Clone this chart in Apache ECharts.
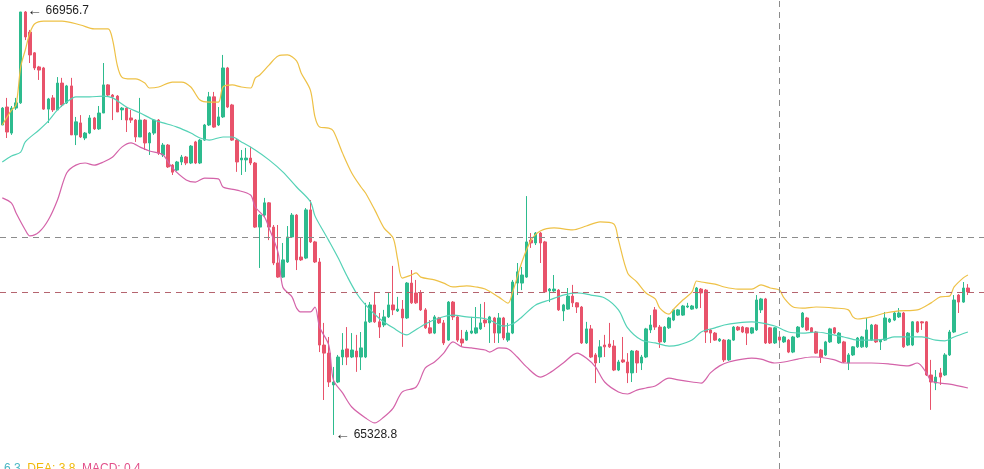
<!DOCTYPE html>
<html>
<head>
<meta charset="utf-8">
<script src="https://cdn.jsdelivr.net/npm/echarts@6/dist/echarts.min.js"></script>
<style>
html, body { margin: 0; padding: 0; background: #fff; }
#main { width: 984px; height: 469px; }
</style>
</head>
<body>
<div id="main"></div>
<script>
// candle values, one entry per bar
var opens = [66519,66588,66488,66584,66604,66953,66876,66796,66742,66738,
66580,66623,66577,66680,66604,66669,66481,66527,66469,66488,
66546,66504,66565,66673,66634,66630,66577,66584,66546,66538,
66473,66538,66450,66488,66538,66404,66442,66365,66346,66377,
66396,66373,66454,66373,66461,66519,66627,66519,66550,66738,
66596,66461,66385,66385,66392,66373,66127,66173,66220,66127,
65989,65935,65993,66089,66173,66012,66008,66193,66070,65993,
65674,65643,65521,65532,65628,65659,65628,65651,65628,65628,
65763,65828,65763,65751,65782,65828,65805,65812,65778,65912,
65874,65874,65809,65740,65720,65778,65759,65693,65839,65782,
65697,65693,65720,65720,65736,65770,65759,65778,65720,65778,
65693,65720,65912,65912,65935,66077,66066,66104,66070,65882,
65882,65885,65805,65812,65862,65836,65820,65682,65736,65636,
65628,65674,65678,65670,65578,65617,65609,65567,65651,65605,
65628,65732,65809,65743,65686,65740,65770,65789,65789,65820,
65812,65816,65889,65885,65732,65720,65690,65693,65617,65693,
65743,65743,65740,65720,65732,65809,65851,65740,65682,65705,
65686,65693,65647,65705,65743,65778,65740,65724,65655,65636,
65686,65740,65682,65686,65605,65636,65667,65667,65667,65693,
65751,65686,65693,65763,65770,65782,65797,65674,65674,65763,
65763,65763,65559,65528,65567,65559,65636,65724,65866,65839,
65893];

var closes = [66584,66492,66584,66604,66953,66857,66788,66738,66730,66580,
66619,66577,66680,66596,66669,66481,66531,66473,66488,66546,
66504,66565,66673,66634,66627,66569,66584,66538,66538,66473,
66538,66450,66488,66538,66411,66442,66358,66338,66377,66396,
66373,66438,66373,66461,66519,66627,66511,66550,66738,66588,
66461,66377,66392,66392,66373,66127,66173,66220,66127,65989,
65935,66001,66089,66173,66001,66001,66193,66070,65993,65674,
65643,65532,65532,65628,65655,65628,65655,65628,65663,65763,
65828,65763,65743,65782,65828,65809,65812,65778,65912,65836,
65836,65809,65740,65720,65782,65759,65682,65839,65782,65693,
65682,65724,65728,65740,65759,65759,65782,65720,65778,65701,
65720,65916,65955,65943,66070,66066,66104,66066,65878,65889,
65889,65809,65828,65862,65836,65820,65682,65736,65628,65605,
65667,65667,65667,65578,65609,65609,65567,65651,65605,65628,
65736,65751,65743,65686,65743,65778,65809,65809,65824,65824,
65824,65893,65874,65724,65720,65693,65697,65617,65693,65743,
65732,65724,65720,65740,65847,65851,65682,65682,65740,65693,
65705,65647,65705,65743,65797,65732,65724,65643,65628,65686,
65736,65720,65720,65609,65636,65667,65701,65705,65732,65751,
65686,65693,65778,65774,65797,65797,65667,65720,65763,65724,
65759,65559,65532,65551,65551,65636,65724,65847,65839,65893,
65878];

var lows = [66519,66469,66481,66577,66600,66845,66757,66730,66692,66577,
66527,66569,66577,66588,66600,66481,66442,66469,66461,66484,
66500,66500,66565,66630,66538,66569,66538,66492,66527,66454,
66473,66423,66404,66481,66404,66396,66354,66327,66342,66365,
66365,66369,66369,66369,66458,66515,66508,66515,66546,66584,
66458,66339,66327,66339,66365,66124,65970,66166,66077,65981,
65932,65932,65989,66085,65962,65997,66004,66066,65989,65647,
65463,65513,65328.8,65528,65597,65597,65624,65571,65578,65624,
65759,65759,65701,65743,65778,65789,65801,65667,65774,65832,
65832,65805,65736,65716,65716,65755,65674,65690,65770,65686,
65667,65690,65716,65716,65732,65743,65682,65682,65682,65693,
65686,65716,65866,65885,65932,66047,66058,65989,65874,65839,
65878,65805,65766,65809,65820,65797,65678,65678,65624,65528,
65605,65628,65663,65574,65574,65605,65528,65532,65567,65578,
65624,65720,65732,65663,65682,65736,65766,65786,65786,65816,
65809,65812,65816,65682,65682,65690,65686,65609,65613,65690,
65728,65720,65674,65716,65728,65797,65678,65678,65678,65667,
65682,65643,65643,65701,65740,65728,65720,65640,65605,65632,
65682,65716,65678,65605,65578,65632,65663,65663,65663,65690,
65682,65655,65690,65759,65766,65778,65663,65670,65670,65720,
65732,65555,65425,65501,65521,65555,65632,65720,65797,65836,
65866];

var highs = [66588,66623,66592,66623,66953,66956.7,66884,66799,66746,66742,
66623,66634,66703,66700,66673,66700,66550,66557,66492,66557,
66550,66592,66757,66676,66638,66634,66588,66588,66577,66542,
66623,66542,66492,66542,66542,66450,66446,66369,66381,66404,
66400,66442,66458,66465,66523,66646,66646,66588,66788,66742,
66600,66465,66423,66431,66435,66377,66177,66239,66223,66135,
66135,66066,66131,66181,66177,66085,66200,66231,66074,66008,
65759,65705,65590,65636,65720,65743,65720,65713,65724,65836,
65839,65878,65797,65809,65874,65978,65859,65847,65916,65962,
65924,65885,65816,65770,65789,65782,65770,65843,65843,65786,
65732,65732,65782,65820,65832,65839,65786,65782,65797,65782,
65759,65924,65989,65974,66246,66104,66108,66108,66074,65893,
65943,65889,65832,65893,65905,65839,65824,65763,65751,65643,
65693,65713,65759,65693,65617,65705,65643,65655,65655,65636,
65740,65789,65820,65751,65747,65782,65812,65812,65828,65836,
65828,65897,65893,65889,65736,65724,65701,65697,65697,65747,
65747,65747,65743,65743,65866,65855,65855,65743,65743,65724,
65709,65697,65709,65747,65801,65782,65743,65728,65659,65690,
65740,65743,65724,65690,65643,65670,65705,65709,65778,65755,
65755,65697,65801,65778,65801,65816,65801,65724,65766,65766,
65766,65766,65617,65578,65586,65643,65732,65866,65870,65916,
65908];

// bollinger bands: [bar index, value]
var upperBand = [[0,66519],[2,66576],[3,66596],[4,66742],[5,66807],[6,66872],[7,66907],[9,66918],[13,66918],[17,66903],
[20,66888],[23,66888],[24,66845],[25,66749],[26,66703],[28,66696],[29,66696],[31,66680],[32,66661],[34,66665],
[37,66684],[39,66684],[41,66665],[43,66615],[45,66607],[47,66607],[48,66665],[50,66673],[52,66665],[54,66661],
[55,66699],[56,66711],[58,66749],[60,66784],[62,66788],[64,66765],[65,66719],[67,66653],[68,66550],[69,66511],
[71,66507],[72,66496],[74,66411],[76,66335],[78,66281],[79,66258],[81,66193],[83,66124],[85,66085],[86,66001],
[87,65931],[89,65943],[90,65951],[91,65935],[94,65924],[96,65912],[98,65897],[101,65901],[103,65897],[105,65889],
[108,65858],[110,65835],[111,65878],[113,65993],[115,66077],[117,66112],[120,66124],[124,66116],[127,66131],[130,66147],
[133,66139],[134,66077],[136,65951],[138,65916],[140,65874],[142,65851],[143,65816],[145,65793],[146,65812],[148,65847],
[150,65878],[151,65920],[152,65916],[155,65908],[157,65897],[160,65889],[163,65889],[165,65905],[167,65893],[169,65885],
[170,65855],[172,65820],[174,65816],[177,65820],[181,65816],[184,65809],[185,65782],[186,65774],[189,65782],[192,65797],
[195,65805],[199,65809],[202,65836],[204,65859],[206,65862],[207,65897],[209,65932],[210,65943]];

var midBand = [[0,66377],[2,66400],[4,66415],[5,66454],[8,66500],[10,66534],[12,66577],[14,66607],[16,66627],[19,66627],
[22,66630],[24,66623],[27,66588],[30,66565],[33,66538],[35,66527],[38,66511],[41,66488],[43,66469],[45,66461],
[48,66473],[50,66473],[52,66454],[55,66423],[58,66385],[61,66339],[64,66281],[67,66225],[68,66170],[70,66106],
[71,66075],[73,66010],[75,65938],[77,65874],[79,65828],[82,65776],[85,65740],[88,65713],[89,65722],[92,65755],
[95,65778],[98,65789],[101,65782],[104,65778],[106,65770],[109,65747],[111,65755],[113,65782],[116,65828],[119,65847],
[122,65866],[125,65874],[128,65866],[131,65855],[134,65809],[136,65740],[139,65693],[142,65682],[145,65670],[147,65674],
[150,65693],[152,65724],[155,65740],[157,65751],[160,65759],[163,65763],[165,65759],[168,65747],[171,65724],[174,65720],
[177,65724],[180,65716],[183,65705],[186,65693],[189,65693],[192,65697],[194,65705],[197,65705],[200,65705],[203,65693],
[205,65690],[207,65705],[210,65724]];

var lowerBand = [[0,66239],[2,66219],[3,66181],[5,66116],[6,66093],[8,66108],[10,66154],[12,66231],[14,66335],[16,66365],
[18,66373],[20,66365],[22,66377],[24,66396],[26,66434],[28,66450],[30,66434],[32,66419],[34,66411],[35,66404],
[37,66354],[40,66308],[42,66300],[44,66315],[47,66312],[48,66281],[51,66269],[54,66250],[55,66204],[57,66166],
[58,66124],[60,66027],[61,65897],[63,65859],[64,65816],[65,65801],[67,65801],[68,65820],[69,65743],[71,65674],
[72,65540],[74,65490],[76,65436],[79,65394],[81,65375],[83,65398],[85,65432],[87,65494],[90,65513],[92,65586],
[94,65609],[96,65643],[98,65686],[100,65667],[102,65663],[105,65655],[106,65647],[108,65663],[110,65659],[112,65628],
[114,65590],[117,65551],[119,65567],[122,65605],[125,65643],[127,65624],[129,65590],[131,65532],[134,65494],[136,65486],
[138,65501],[140,65509],[142,65517],[145,65547],[147,65540],[150,65532],[152,65528],[154,65567],[156,65594],[158,65609],
[161,65620],[163,65624],[165,65620],[168,65605],[170,65609],[173,65620],[176,65628],[177,65628],[181,65617],[183,65605],
[185,65605],[189,65605],[193,65601],[197,65594],[199,65605],[201,65567],[202,65536],[204,65528],[206,65524],[210,65509]];

var crossIndex = 169;
var crossPrice = 66089;
var yMin = 65198;
var yMax = 66999;
var macdTexts = ['DIF: 6.3', 'DEA: 3.8', 'MACD: 0.4'];

var upColor = '#2dbb8e';
var downColor = '#e8536b';

// three empty slots after the last bar
var categories = [];
for (var i = 0; i < opens.length + 3; i++) categories.push(String(i));

var candles = opens.map(function (o, i) {
  return [o, closes[i], lows[i], highs[i]];
});

var myChart = echarts.init(document.getElementById('main'));
var option = {
  animation: false,
  backgroundColor: '#fff',
  grid: { left: 0, right: 0, top: 0, bottom: 0 },
  xAxis: {
    type: 'category',
    data: categories,
    boundaryGap: true,
    axisLine: { show: false },
    axisTick: { show: false },
    axisLabel: { show: false },
    splitLine: { show: false },
    axisPointer: {
      show: true,
      status: 'show',
      value: crossIndex,
      triggerTooltip: false,
      label: { show: false },
      lineStyle: { color: '#8c8c8c', type: [6, 5], width: 1 }
    }
  },
  yAxis: {
    type: 'value',
    min: yMin,
    max: yMax,
    axisLine: { show: false },
    axisTick: { show: false },
    axisLabel: { show: false },
    splitLine: { show: false },
    axisPointer: {
      show: true,
      status: 'show',
      value: crossPrice,
      triggerTooltip: false,
      label: { show: false },
      lineStyle: { color: '#8c8c8c', type: [6, 5], width: 1 }
    }
  },
  graphic: [{
    type: 'text',
    x: -22,
    y: 463,
    silent: true,
    style: {
      text: '{a|' + macdTexts[0] + '}  {b|' + macdTexts[1] + '}  {c|' + macdTexts[2] + '}',
      font: '12px sans-serif',
      rich: {
        a: { fill: '#49b8c4', fontSize: 12 },
        b: { fill: '#f0b90b', fontSize: 12 },
        c: { fill: '#e2508a', fontSize: 12 }
      }
    }
  }],
  series: [
    {
      type: 'candlestick',
      data: candles,
      barWidth: 3,
      itemStyle: {
        color: upColor,
        color0: downColor,
        borderColor: upColor,
        borderColor0: downColor,
        borderWidth: 1
      },
      markPoint: {
        symbol: 'circle',
        symbolSize: 0,
        silent: true,
        label: {
          show: true,
          position: 'right',
          distance: 2,
          color: '#222',
          fontSize: 12,
          formatter: function (p) { return '{arr|\u2190} ' + p.value; },
          rich: {
            arr: { fontSize: 15, fontWeight: 'bold', color: '#222' }
          }
        },
        data: [
          { type: 'max', valueDim: 'highest' },
          { type: 'min', valueDim: 'lowest' }
        ]
      },
      markLine: {
        silent: true,
        symbol: ['none', 'none'],
        label: { show: false },
        lineStyle: { color: '#b5646f', type: [6, 5], width: 1 },
        data: [{ yAxis: closes[closes.length - 1] }]
      }
    },
    {
      type: 'line', data: upperBand, smooth: 0.3, showSymbol: false, connectNulls: true,
      lineStyle: { color: '#eec146', width: 1.2 }, silent: true
    },
    {
      type: 'line', data: midBand, smooth: 0.3, showSymbol: false, connectNulls: true,
      lineStyle: { color: '#54d2b6', width: 1.2 }, silent: true
    },
    {
      type: 'line', data: lowerBand, smooth: 0.3, showSymbol: false, connectNulls: true,
      lineStyle: { color: '#d463a9', width: 1.2 }, silent: true
    }
  ]
};

myChart.setOption(option);
window.onresize = function () {
  myChart.resize();
};
</script>
</body>
</html>
